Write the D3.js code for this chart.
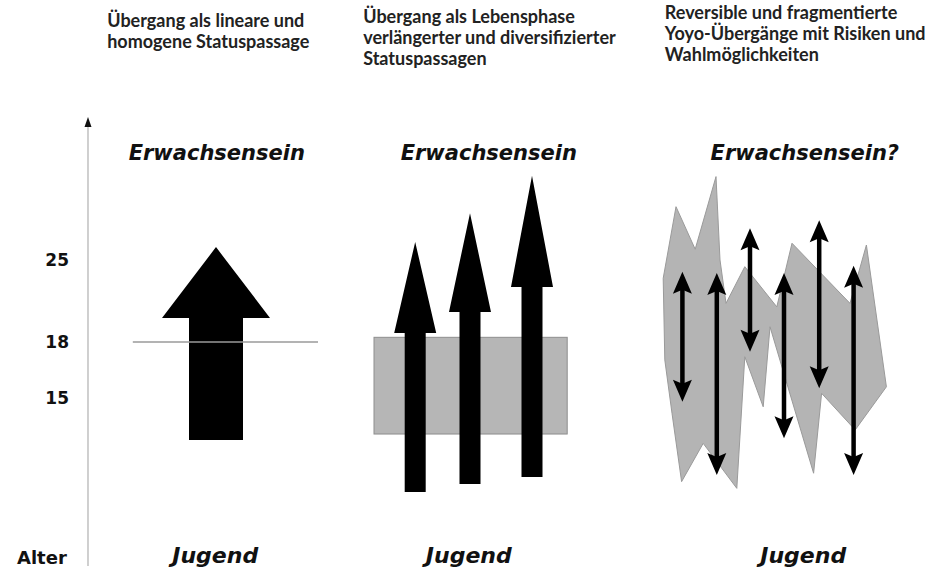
<!DOCTYPE html>
<html>
<head>
<meta charset="utf-8">
<script src="https://cdn.jsdelivr.net/npm/d3@7"></script>
<style>
  body { margin: 0; background: #fff; }
  .title { font-family: Lato, "Open Sans", sans-serif; font-weight: 700; font-size: 18px; fill: #222; }
  .stage { font-family: "DejaVu Sans", Verdana, sans-serif; font-weight: bold; font-style: italic; fill: #111; }
  .tick { font-family: "DejaVu Sans", sans-serif; font-weight: bold; font-size: 17px; fill: #111; }
</style>
</head>
<body>
<div id="chart"></div>
<script>
// age ticks on the vertical axis
var ageTicks = [15, 18, 25];
var axisName = "Alter";

// column headings (one array of lines per column)
var titles = [
  ["Übergang als lineare und", "homogene Statuspassage"],
  ["Übergang als Lebensphase", "verlängerter und diversifizierter", "Statuspassagen"],
  ["Reversible und fragmentierte", "Yoyo-Übergänge mit Risiken und", "Wahlmöglichkeiten"]
];
var titleX = [2.4, 34.4, 72.1];

var topLabels = ["Erwachsensein", "Erwachsensein", "Erwachsensein?"];
var topLabelX = [16.1, 50.1, 89.6];
var bottomLabels = ["Jugend", "Jugend", "Jugend"];
var bottomLabelX = [15.9, 47.6, 89.4];

// column 1: one big arrow and the line at 18
var bigArrow = [{ x: 16.0, from: 12.75, headBase: 20.05, tip: 26.1 }];
var line18 = [{ x0: 5.6, x1: 28.75, age: 18 }];

// column 2: grey band and three long arrows
var band = [{ x0: 35.75, x1: 59.9, from: 13.07, to: 18.4 }];
var longArrows = [
  { x: 40.9, from: 9.97, headBase: 18.77, tip: 26.54 },
  { x: 47.75, from: 10.39, headBase: 20.56, tip: 29.0 },
  { x: 55.5, from: 10.77, headBase: 22.7, tip: 32.2 }
];

// column 3: jagged grey area and yoyo arrows
var jagged = [
  [71.9, 23.44], [73.5, 29.55], [75.9, 25.92], [78.5, 32.12], [79.0, 25.0],
  [79.75, 21.3], [82.1, 24.43], [86.1, 21.0], [88.0, 26.43], [95.25, 21.3],
  [97.3, 26.28], [99.8, 15.6], [95.9, 13.29], [91.7, 15.25], [90.7, 10.97],
  [85.25, 19.3], [84.4, 14.53], [82.1, 17.21], [81.1, 10.16], [76.9, 12.57],
  [74.2, 10.52], [73.0, 14.18], [72.1, 17.04]
];
var yoyo = [
  { x: 74.3, from: 14.8, to: 24.0 },
  { x: 78.6, from: 10.88, to: 23.9 },
  { x: 82.75, from: 17.48, to: 27.7 },
  { x: 87.0, from: 12.84, to: 23.9 },
  { x: 91.4, from: 15.52, to: 28.4 },
  { x: 95.7, from: 10.88, to: 24.5 }
];

var svgWidth = 950;
var svgHeight = 572;

var svg = d3.select("#chart").append("svg")
  .attr("width", svgWidth)
  .attr("height", svgHeight);

// scales: horizontal position units and (schematic, piecewise) age
var x = d3.scaleLinear().domain([0, 100]).range([88, 888]);
var y = d3.scaleLinear().domain([15, 18, 25]).range([398, 342, 260]);

// vertical axis line with arrow tip
svg.append("line")
  .attr("x1", x(0)).attr("x2", x(0))
  .attr("y1", 124).attr("y2", 566)
  .attr("stroke", "#c4c4c4")
  .attr("stroke-width", 1.6);
svg.append("path")
  .attr("d", `M${x(0)},117 L${x(0) - 3.5},127 L${x(0) + 3.5},127 Z`)
  .attr("fill", "#111");

var yAxis = d3.axisLeft(y)
  .tickValues(ageTicks)
  .tickSize(0)
  .tickPadding(19)
  .tickFormat(d3.format("d"));
var axisG = svg.append("g")
  .attr("transform", `translate(${x(0)},0)`)
  .call(yAxis);
axisG.select(".domain").remove();
axisG.selectAll("text")
  .attr("class", "tick")
  .attr("font-family", null).attr("font-size", null)
  .attr("dy", "0.35em");

svg.append("text")
  .attr("class", "tick")
  .attr("x", 17)
  .attr("y", 564)
  .style("font-size", "18px")
  .text(axisName);

// headings
titles.forEach(function(lines, i) {
  var baseY = [27, 23, 19][i];
  var t = svg.append("text")
    .attr("class", "title")
    .attr("x", x(titleX[i]))
    .attr("y", baseY);
  lines.forEach(function(l, j) {
    t.append("tspan")
      .attr("x", x(titleX[i]))
      .attr("dy", j === 0 ? 0 : 21)
      .text(l);
  });
});

svg.selectAll(".top").data(topLabels).enter().append("text")
  .attr("class", "stage")
  .attr("x", (d, i) => x(topLabelX[i]))
  .attr("y", 160)
  .attr("text-anchor", "middle")
  .style("font-size", "21px")
  .text(d => d);

svg.selectAll(".bottom").data(bottomLabels).enter().append("text")
  .attr("class", "stage")
  .attr("x", (d, i) => x(bottomLabelX[i]))
  .attr("y", 563)
  .attr("text-anchor", "middle")
  .style("font-size", "22px")
  .text(d => d);

// arrow shape: shaft + triangular head
function arrowPath(d, shaftW, headW) {
  var cx = x(d.x);
  return `M${cx - shaftW / 2},${y(d.from)}` +
    ` L${cx - shaftW / 2},${y(d.headBase)}` +
    ` L${cx - headW / 2},${y(d.headBase)}` +
    ` L${cx},${y(d.tip)}` +
    ` L${cx + headW / 2},${y(d.headBase)}` +
    ` L${cx + shaftW / 2},${y(d.headBase)}` +
    ` L${cx + shaftW / 2},${y(d.from)} Z`;
}

// column 1
svg.selectAll(".big").data(bigArrow).enter().append("path")
  .attr("d", d => arrowPath(d, 54, 108))
  .attr("fill", "#000");

svg.selectAll(".l18").data(line18).enter().append("line")
  .attr("x1", d => x(d.x0)).attr("x2", d => x(d.x1))
  .attr("y1", d => y(d.age)).attr("y2", d => y(d.age))
  .attr("stroke", "#9a9a9a")
  .attr("stroke-width", 1.5);

// column 2
svg.selectAll(".band").data(band).enter().append("rect")
  .attr("x", d => x(d.x0))
  .attr("y", d => y(d.to))
  .attr("width", d => x(d.x1) - x(d.x0))
  .attr("height", d => y(d.from) - y(d.to))
  .attr("fill", "#b6b6b6")
  .attr("stroke", "#8e8e8e")
  .attr("stroke-width", 1);

svg.selectAll(".long").data(longArrows).enter().append("path")
  .attr("d", d => arrowPath(d, 21, 42))
  .attr("fill", "#000");

// column 3
svg.append("path")
  .datum(jagged)
  .attr("d", d3.line().x(d => x(d[0])).y(d => y(d[1])).curve(d3.curveLinearClosed))
  .attr("fill", "#b4b4b4")
  .attr("stroke", "#9a9a9a")
  .attr("stroke-width", 1);

var yo = svg.selectAll(".yoyo").data(yoyo).enter().append("g");
yo.append("line")
  .attr("x1", d => x(d.x)).attr("x2", d => x(d.x))
  .attr("y1", d => y(d.to) + 12).attr("y2", d => y(d.from) - 12)
  .attr("stroke", "#000")
  .attr("stroke-width", 4.5);
yo.append("path")
  .attr("d", d => `M${x(d.x)},${y(d.to)} L${x(d.x) - 9.5},${y(d.to) + 22} L${x(d.x)},${y(d.to) + 18} L${x(d.x) + 9.5},${y(d.to) + 22} Z`)
  .attr("fill", "#000");
yo.append("path")
  .attr("d", d => `M${x(d.x)},${y(d.from)} L${x(d.x) - 9.5},${y(d.from) - 22} L${x(d.x)},${y(d.from) - 18} L${x(d.x) + 9.5},${y(d.from) - 22} Z`)
  .attr("fill", "#000");
</script>
</body>
</html>
